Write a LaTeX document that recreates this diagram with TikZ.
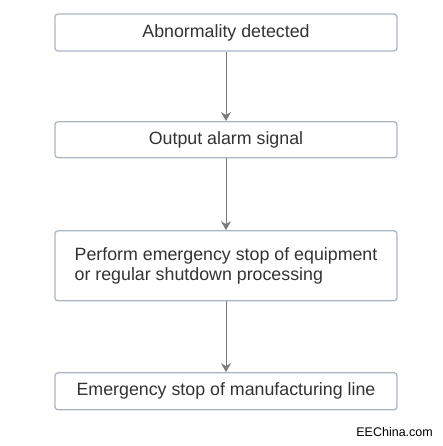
\documentclass[tikz,border=0pt]{standalone}
\usepackage{fontspec}
\setmainfont{Liberation Sans}
\usetikzlibrary{arrows.meta}
\definecolor{boxline}{HTML}{A9B7C5}
\definecolor{txt}{HTML}{333333}
\definecolor{arr}{HTML}{7A7A7A}
\tikzset{
  stepbox/.style={draw=boxline, line width=1.3pt, rounded corners=3pt, fill=white,
    minimum width=342pt, inner sep=0pt, text=txt,
    font=\fontsize{17.8pt}{20.5pt}\selectfont},
  flow/.style={draw=arr, line width=1pt, -{Stealth[width=10pt,length=9pt,inset=3pt]}}
}
\begin{document}
\begin{tikzpicture}[x=1pt,y=-1pt]
\useasboundingbox (0,0) rectangle (442,446);
\node[stepbox, minimum height=37pt] (a) at (226,32.5) {Abnormality detected};
\node[stepbox, minimum height=36pt] (b) at (226,139.7) {Output alarm signal};
\node[stepbox, minimum height=70pt, align=left] (c) at (226,265.8) {Perform emergency stop of equipment\\or regular shutdown processing};
\node[stepbox, minimum height=37pt] (d) at (226,391.3) {Emergency stop of manufacturing line};
\draw[flow] (a) -- (b);
\draw[flow] (b) -- (c);
\draw[flow] (c) -- (d);
\node[anchor=east, inner sep=0pt, font=\fontsize{12.5pt}{14pt}\selectfont] (w) at (433,431.7) {EEChina.com};
\end{tikzpicture}
\end{document}
